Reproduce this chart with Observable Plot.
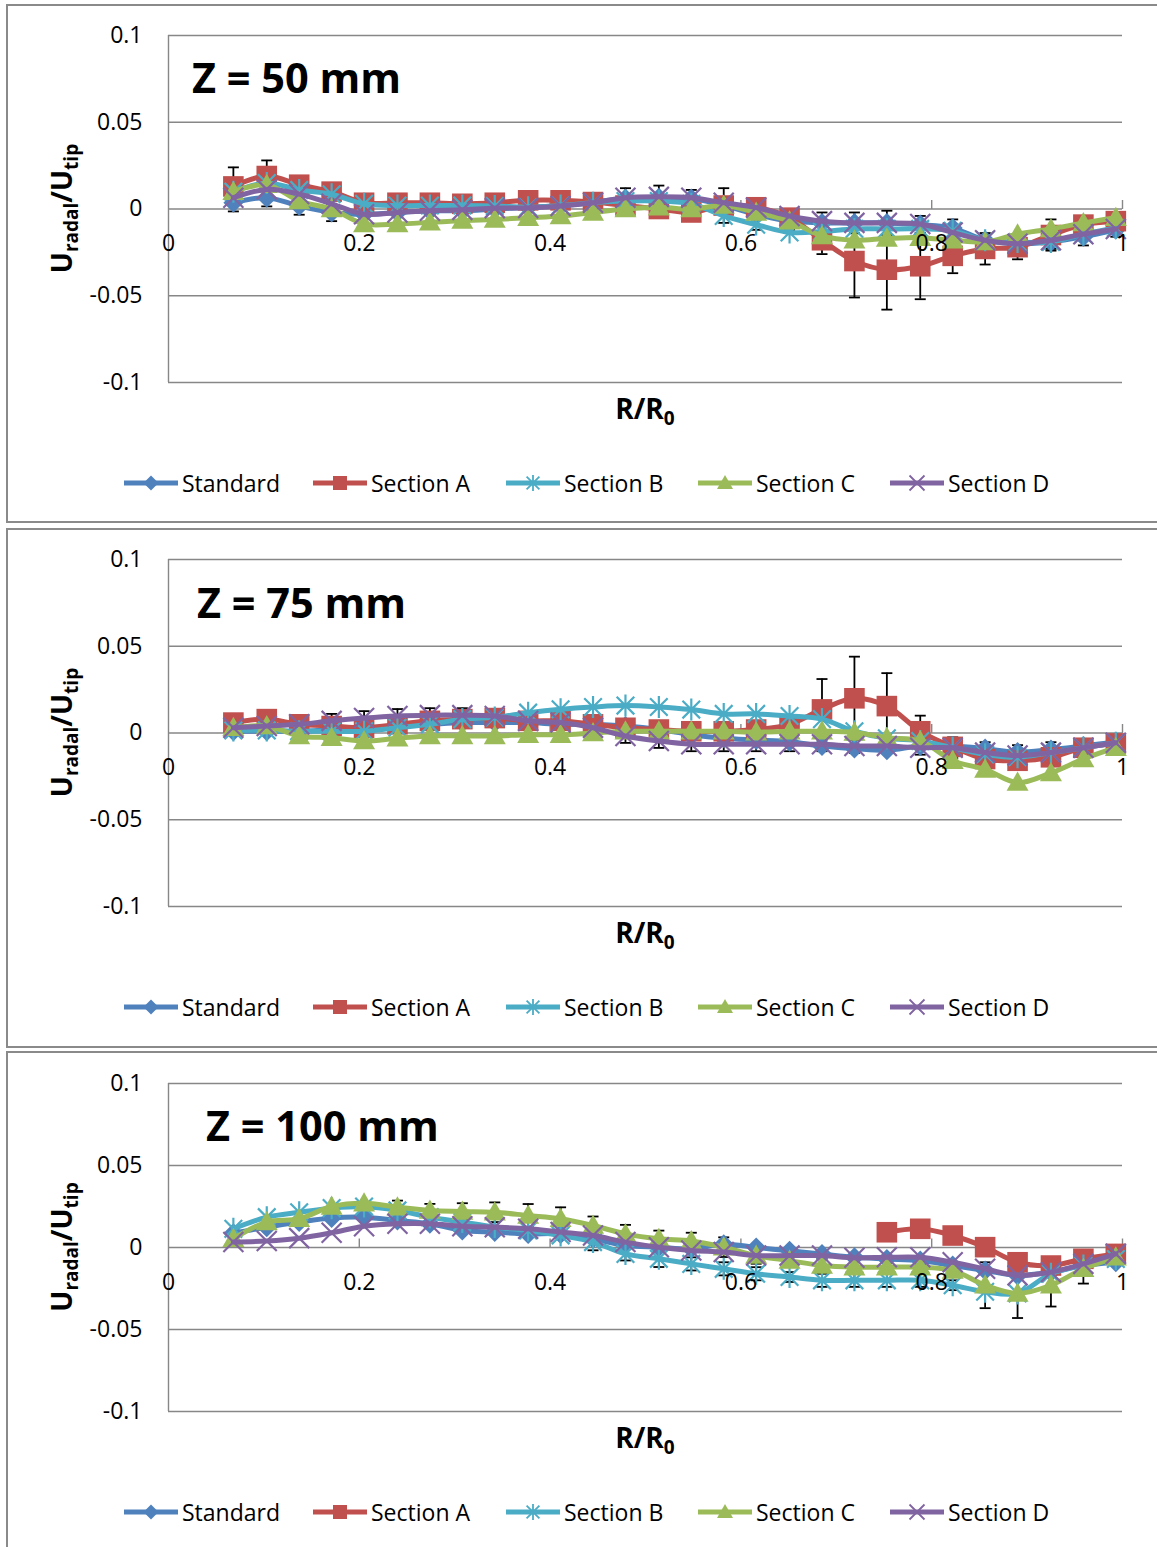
<!DOCTYPE html>
<html>
<head>
<meta charset="utf-8">
<script src="https://cdn.jsdelivr.net/npm/d3@7"></script>
<script src="https://cdn.jsdelivr.net/npm/@observablehq/plot@0.6"></script>
<style>
  html, body { margin:0; padding:0; background:#fff; }
  body { position:relative; width:1157px; height:1547px; overflow:hidden; font-family:"Open Sans", sans-serif; }
  .box { position:absolute; border:2px solid #8a8a8a; box-sizing:border-box; background:#fff; }
  .chart { position:absolute; left:0; }
  #overlay { position:absolute; left:0; top:0; pointer-events:none; }
</style>
</head>
<body>
<script>
// ---------------- DATA ----------------
const rR0 = [0.068,0.103,0.137,0.171,0.205,0.240,0.274,0.308,0.342,0.377,0.411,0.445,0.479,0.514,0.548,0.582,0.616,0.651,0.685,0.719,0.753,0.788,0.822,0.856,0.890,0.925,0.959,0.993];
const seriesNames = ["Standard","Section A","Section B","Section C","Section D"];
const seriesColors = ["#4F81BD","#C0504D","#4BACC6","#9BBB59","#8064A2"];
const yTicks = [-0.1,-0.05,0,0.05,0.1];
const xTickVals = [0,0.2,0.4,0.6,0.8,1];
const xTickLabels = ["0","0.2","0.4","0.6","0.8","1"];
const panelTitles = ["Z = 50 mm","Z = 75 mm","Z = 100 mm"];

// Z = 50 mm
const z50Standard = [0.0036,0.0065,0.0017,-0.002,-0.003,-0.002,-0.001,-0.001,0.000,0.001,0.002,0.004,0.006,0.0065,0.006,0.002,-0.003,-0.007,-0.008,-0.008,-0.008,-0.009,-0.011,-0.018,-0.020,-0.019,-0.016,-0.012];
const z50A = [0.013,0.019,0.014,0.010,0.0036,0.0036,0.0036,0.003,0.0036,0.005,0.005,0.004,0.002,0.000,-0.002,0.002,0.001,-0.005,-0.018,-0.030,-0.035,-0.033,-0.027,-0.023,-0.022,-0.015,-0.009,-0.007];
const z50B = [0.010,0.015,0.011,0.0085,0.003,0.002,0.002,0.002,0.0017,0.001,0.002,0.0036,0.0046,0.0046,0.003,-0.004,-0.009,-0.0135,-0.013,-0.0115,-0.0115,-0.0115,-0.0126,-0.018,-0.019,-0.019,-0.0145,-0.011];
const z50C = [0.010,0.014,0.0046,0.000,-0.0086,-0.0086,-0.0077,-0.0067,-0.006,-0.005,-0.004,-0.002,0.000,0.001,0.000,0.002,-0.002,-0.007,-0.0155,-0.018,-0.017,-0.0165,-0.018,-0.019,-0.0145,-0.0115,-0.008,-0.005];
const z50D = [0.0065,0.0113,0.0086,0.003,-0.003,-0.002,-0.001,-0.0005,0.0005,0.0006,0.0017,0.0036,0.0065,0.007,0.0065,0.0036,0.0008,-0.004,-0.007,-0.008,-0.008,-0.0087,-0.0136,-0.018,-0.020,-0.018,-0.0145,-0.0115];
const z50ErrA = [0.011,0.009,0.004,0.003,null,null,null,null,null,null,null,null,null,null,null,null,null,0.004,0.008,0.021,0.023,0.019,0.010,0.009,0.007,0.009,0.005,0.004];
const z50ErrStandard = [0.005,0.005,0.005,0.005,null,null,null,null,null,null,null,null,0.006,0.007,0.005,0.010,0.009,0.005,0.006,0.006,0.007,0.005,0.005,0.004,0.004,0.004,0.005,0.004];

// Z = 75 mm
const z75Standard = [0.001,0.001,0.001,0.002,0.003,0.004,0.005,0.006,0.006,0.006,0.005,0.005,0.004,0.002,-0.001,-0.003,-0.004,-0.005,-0.0075,-0.009,-0.010,-0.0075,-0.0075,-0.009,-0.011,-0.0095,-0.0075,-0.005];
const z75A = [0.006,0.008,0.005,0.004,0.003,0.005,0.007,0.008,0.0086,0.007,0.007,0.005,0.003,0.002,0.001,0.001,0.002,0.005,0.0136,0.020,0.0155,0.001,-0.008,-0.015,-0.016,-0.014,-0.0085,-0.006];
const z75B = [0.0015,0.0015,0.001,0.001,0.001,0.003,0.005,0.008,0.009,0.0117,0.0137,0.015,0.0158,0.015,0.0135,0.011,0.011,0.0098,0.008,0.001,-0.003,-0.0046,-0.0085,-0.0123,-0.014,-0.0113,-0.0085,-0.0056];
const z75C = [0.003,0.004,-0.0017,-0.0027,-0.0046,-0.003,-0.0017,-0.0017,-0.0017,-0.001,-0.001,0.000,0.001,0.001,0.001,0.001,0.0005,0.001,0.001,0.0003,-0.0027,-0.0046,-0.016,-0.021,-0.0286,-0.023,-0.015,-0.0085];
const z75D = [0.003,0.004,0.005,0.007,0.0086,0.0098,0.0103,0.0103,0.0098,0.007,0.006,0.003,-0.0017,-0.0046,-0.0065,-0.0065,-0.0065,-0.0065,-0.0065,-0.0075,-0.0075,-0.0085,-0.0085,-0.0113,-0.013,-0.0113,-0.0085,-0.0056];
const z75ErrA = [0.004,0.003,null,null,null,null,null,null,null,null,null,null,null,null,null,null,null,null,0.0175,0.024,0.019,0.009,null,null,null,null,null,null];
const z75ErrD = [null,null,null,0.004,0.004,0.004,0.004,0.004,0.004,0.004,0.004,0.004,0.004,0.004,0.004,0.004,0.004,0.004,0.004,0.004,0.004,0.004,0.006,0.006,0.006,0.006,null,null];

// Z = 100 mm
const z100Standard = [0.0087,0.0124,0.0155,0.018,0.0185,0.0165,0.0145,0.0104,0.0094,0.0083,0.0083,0.0053,0.0012,0.0002,-0.0008,0.002,0.000,-0.002,-0.004,-0.006,-0.007,-0.008,-0.011,-0.014,-0.017,-0.015,-0.011,-0.009];
const z100A = [null,null,null,null,null,null,null,null,null,null,null,null,null,null,null,null,null,null,null,null,0.0093,0.0114,0.0073,0.0002,-0.009,-0.011,-0.0069,-0.0039];
const z100B = [0.0114,0.0185,0.0215,0.024,0.025,0.0226,0.0185,0.0155,0.0125,0.0104,0.0073,0.0033,-0.0039,-0.0069,-0.010,-0.013,-0.016,-0.018,-0.020,-0.020,-0.020,-0.020,-0.023,-0.027,-0.028,-0.016,-0.011,-0.007];
const z100C = [0.0053,0.0155,0.0175,0.025,0.027,0.0246,0.0226,0.022,0.0215,0.0195,0.0175,0.0134,0.0083,0.0053,0.004,0.0002,-0.0049,-0.008,-0.011,-0.012,-0.012,-0.012,-0.014,-0.023,-0.028,-0.023,-0.013,-0.006];
const z100D = [0.0033,0.004,0.0057,0.009,0.013,0.0145,0.0145,0.013,0.0124,0.0114,0.0094,0.0073,0.0033,0.0002,-0.0018,-0.0028,-0.0049,-0.0049,-0.0049,-0.0063,-0.006,-0.006,-0.009,-0.013,-0.017,-0.015,-0.010,-0.0039];
const z100ErrC = [null,null,null,null,null,0.004,0.004,0.005,0.006,0.007,0.007,0.0055,0.0055,0.005,0.005,0.006,0.005,0.004,0.004,0.004,0.004,0.004,0.004,0.014,0.015,0.013,0.009,null];
const z100ErrB = [null,null,null,null,null,null,null,null,null,null,null,0.005,0.004,0.005,0.004,0.004,0.004,0.003,0.004,0.004,0.004,0.004,0.003,null,null,null,null,null];

// ---------------- SYMBOLS ----------------
const R = s => Math.sqrt(s / Math.PI);
const symDiamond = {draw(c, s){ const r = R(s); c.moveTo(0,-r); c.lineTo(r,0); c.lineTo(0,r); c.lineTo(-r,0); c.closePath(); }};
const symSquare = {draw(c, s){ const r = R(s); c.moveTo(-r,-r); c.lineTo(r,-r); c.lineTo(r,r); c.lineTo(-r,r); c.closePath(); }};
const symTriangle = {draw(c, s){ const r = R(s); c.moveTo(0,-r); c.lineTo(r,0.75*r); c.lineTo(-r,0.75*r); c.closePath(); }};
const symStar = {draw(c, s){ const r = R(s), d = 0.8*r; c.moveTo(0,-r); c.lineTo(0,r); c.moveTo(-d,-d); c.lineTo(d,d); c.moveTo(-d,d); c.lineTo(d,-d); }};
const symTimes = {draw(c, s){ const r = R(s); c.moveTo(-r,-r); c.lineTo(r,r); c.moveTo(-r,r); c.lineTo(r,-r); }};
const symHLine = {draw(c, s){ const r = R(s); c.moveTo(-r,0); c.lineTo(r,0); }};
const symVLine = {draw(c, s){ const r = R(s); c.moveTo(0,-r); c.lineTo(0,r); }};
const seriesSymbols = [symDiamond, symSquare, symStar, symTriangle, symTimes];
const markerR = [10, 10.3, 11, 11, 10];
const legendR = [7.5, 7, 8, 8, 7.5];
const filled = [true, true, false, true, false];

// ---------------- LAYOUT ----------------
const panels = [
  {title: panelTitles[0], series: [z50Standard,z50A,z50B,z50C,z50D],
   errors: [{vals: z50A, errs: z50ErrA}, {vals: z50Standard, errs: z50ErrStandard}],
   boxTop: 4, boxH: 519, plotTop: 35, plotBottom: 382, titleX: 192, titleY: 93},
  {title: panelTitles[1], series: [z75Standard,z75A,z75B,z75C,z75D],
   errors: [{vals: z75A, errs: z75ErrA}, {vals: z75D, errs: z75ErrD}],
   boxTop: 528, boxH: 520, plotTop: 559, plotBottom: 906, titleX: 197, titleY: 618},
  {title: panelTitles[2], series: [z100Standard,z100A,z100B,z100C,z100D],
   errors: [{vals: z100C, errs: z100ErrC}, {vals: z100B, errs: z100ErrB}],
   boxTop: 1051, boxH: 600, plotTop: 1083, plotBottom: 1411, titleX: 206, titleY: 1141}
];
const GRID = "#878787";

panels.forEach(p => {
  const box = document.createElement("div");
  box.className = "box";
  Object.assign(box.style, {left: "6px", top: p.boxTop + "px", width: "1160px", height: p.boxH + "px"});
  document.body.appendChild(box);
});

panels.forEach(p => {
  const svgTop = p.boxTop + 1;
  const marginTop = p.plotTop - svgTop;
  const marginBottom = 10;
  const height = (p.plotBottom - svgTop) + marginBottom;
  const marks = [];
  marks.push(Plot.ruleY([0.1,0.05,-0.05,-0.1], {stroke: GRID, strokeWidth: 1.4}));
  marks.push(Plot.ruleX([0], {stroke: GRID, strokeWidth: 1.4}));
  marks.push(Plot.ruleY([0], {stroke: GRID, strokeWidth: 1.4}));
  marks.push(Plot.dot(xTickVals.slice(1), {x: d => d, y: () => 0, symbol: symVLine, r: 4.5, dy: -4.5, stroke: GRID, strokeWidth: 1.4, fill: "none"}));
  for (const {vals, errs} of p.errors) {
    const rows = rR0.map((x, i) => ({x, y: vals[i], e: errs[i]})).filter(d => d.e != null && d.y != null);
    marks.push(Plot.ruleX(rows, {x: "x", y1: d => d.y - d.e, y2: d => d.y + d.e, stroke: "#000", strokeWidth: 1.8}));
    marks.push(Plot.dot(rows, {x: "x", y: d => d.y + d.e, symbol: symHLine, r: 5.5, stroke: "#000", strokeWidth: 1.8, fill: "none"}));
    marks.push(Plot.dot(rows, {x: "x", y: d => d.y - d.e, symbol: symHLine, r: 5.5, stroke: "#000", strokeWidth: 1.8, fill: "none"}));
  }
  p.series.forEach((vals, k) => {
    const rows = rR0.map((x, i) => ({x, y: vals[i]})).filter(d => d.y != null);
    marks.push(Plot.line(rows, {x: "x", y: "y", stroke: seriesColors[k], strokeWidth: 5, curve: "catmull-rom"}));
    marks.push(Plot.dot(rows, {x: "x", y: "y", symbol: seriesSymbols[k], r: markerR[k],
      fill: filled[k] ? seriesColors[k] : "none", stroke: filled[k] ? "none" : seriesColors[k], strokeWidth: 2.2}));
  });
  const xt = xTickVals.map((v, i) => ({v, label: xTickLabels[i]}));
  marks.push(Plot.text(xt, {x: "v", y: () => 0, dy: 35, text: "label", fill: "#000", fontSize: 23}));

  const chart = Plot.plot({
    width: 1157, height,
    marginLeft: 168, marginRight: 35, marginTop, marginBottom,
    x: {domain: [0, 1], axis: null},
    y: {domain: [-0.1, 0.1], ticks: yTicks, tickSize: 0, tickPadding: 26, tickFormat: d => String(d), label: null},
    style: {background: "transparent", fontFamily: "Open Sans", fontSize: "23px", color: "#000", overflow: "visible"},
    marks
  });
  chart.classList.add("chart");
  chart.style.top = svgTop + "px";
  chart.style.position = "absolute";
  document.body.appendChild(chart);
});

// ---------------- TEXT OVERLAY & LEGENDS ----------------
const overlay = d3.select("body").append("svg").attr("id", "overlay").attr("width", 1157).attr("height", 1547)
  .attr("font-family", "Open Sans");
const legendLineX = [124, 313, 506, 698, 890];
panels.forEach(p => {
  overlay.append("text").attr("x", p.titleX).attr("y", p.titleY).attr("font-weight", 700).attr("font-size", 41.5).attr("fill", "#000").text(p.title);
  const mid = (p.plotTop + p.plotBottom) / 2;
  const yl = overlay.append("text").attr("transform", `translate(72,${mid}) rotate(-90)`).attr("text-anchor", "middle")
    .attr("font-weight", 700).attr("font-size", 28).attr("fill", "#000");
  yl.append("tspan").text("U");
  yl.append("tspan").attr("font-size", 19).attr("dy", 6).text("radal");
  yl.append("tspan").attr("dy", -6).text("/U");
  yl.append("tspan").attr("font-size", 19).attr("dy", 6).text("tip");
  const xl = overlay.append("text").attr("x", 645).attr("y", p.plotBottom + 37).attr("text-anchor", "middle")
    .attr("font-weight", 700).attr("font-size", 28).attr("fill", "#000");
  xl.append("tspan").text("R/R");
  xl.append("tspan").attr("font-size", 19).attr("dy", 6).text("0");
  const ly = p.plotBottom + 101;
  seriesNames.forEach((name, k) => {
    const x0 = legendLineX[k];
    overlay.append("line").attr("x1", x0).attr("x2", x0 + 54).attr("y1", ly).attr("y2", ly)
      .attr("stroke", seriesColors[k]).attr("stroke-width", 5);
    overlay.append("path").attr("transform", `translate(${x0 + 27},${ly})`)
      .attr("d", d3.symbol(seriesSymbols[k], legendR[k] * legendR[k] * Math.PI)())
      .attr("fill", filled[k] ? seriesColors[k] : "none").attr("stroke", filled[k] ? "none" : seriesColors[k]).attr("stroke-width", 1.8);
    overlay.append("text").attr("x", x0 + 58).attr("y", ly).attr("dominant-baseline", "central")
      .attr("font-size", 23).attr("fill", "#000").text(name);
  });
});
</script>
</body>
</html>
